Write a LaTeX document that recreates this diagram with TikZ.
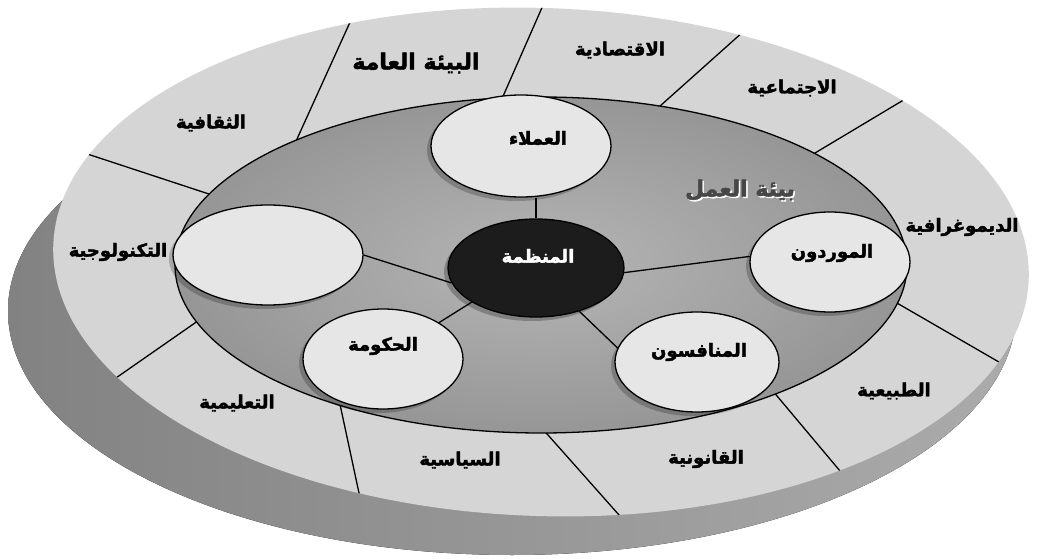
\documentclass[tikz,border=0pt]{standalone}
\usepackage{fontspec}
\newfontfamily\arfont[Script=Arabic, BoldFont={DejaVu Sans Bold}, BoldFeatures={FakeBold=2.2}]{DejaVu Sans}
\TeXXeTstate=1
\usetikzlibrary{shapes.geometric,shadows}
\definecolor{shL}{HTML}{828282}
\definecolor{shR}{HTML}{ABABAB}
\definecolor{ringfill}{HTML}{D5D5D5}
\definecolor{innerC}{HTML}{B5B5B5}
\definecolor{innerO}{HTML}{969696}
\definecolor{ellfill}{HTML}{E6E6E6}
\definecolor{orgfill}{HTML}{1C1C1C}
\newcommand{\artxt}[1]{\beginR #1\endR}
\newcommand{\ringpath}{(541,262) ellipse [x radius=488pt, y radius=254pt]}
\begin{document}
\begin{tikzpicture}[x=1pt,y=-1pt,
  smallell/.style={ellipse, draw=black, line width=1.3pt, fill=ellfill, inner sep=0pt,
    drop shadow={shadow xshift=-4pt, shadow yshift=-4pt, opacity=0.22, fill=black}},
  lab/.style={font=\arfont\bfseries\fontsize{18}{20}\selectfont, inner sep=1pt},
  biglab/.style={font=\arfont\bfseries\fontsize{22}{24}\selectfont, inner sep=1pt},
  radial/.style={draw=black, line width=1.3pt},
  conn/.style={draw=black, line width=1.3pt}]
\useasboundingbox (0,0) rectangle (1037,559);
\fill[white] (0,0) rectangle (1037,559);
% disc side (shadow)
\fill[left color=shL, right color=shR] (512,311) ellipse [x radius=504pt, y radius=244pt];
% outer ring (general environment)
\fill[ringfill, rotate around={-2:(541,262)}] \ringpath;
% radial dividers
\coordinate (a1) at (292,150); \coordinate (b1) at (361,-2);
\coordinate (a2) at (497,110); \coordinate (b2) at (555,-22);
\coordinate (a3) at (650,115); \coordinate (b3) at (772,6);
\coordinate (a4) at (800,162); \coordinate (b4) at (942,77);
\coordinate (a5) at (890,299); \coordinate (b5) at (1030,380);
\coordinate (a6) at (772,390); \coordinate (b6) at (856,490);
\coordinate (a7) at (540,426); \coordinate (b7) at (643,542);
\coordinate (a8) at (338,395); \coordinate (b8) at (368,535);
\coordinate (a9) at (215,309); \coordinate (b9) at (80,403);
\coordinate (a10) at (218,197); \coordinate (b10) at (60,145);
\begin{scope}
\clip[rotate around={-2:(541,262)}] \ringpath;
\foreach \i in {1,...,10} {\draw[radial] (a\i) -- (b\i);}
\end{scope}
% task environment
\draw[line width=1.3pt, inner color=innerC, outer color=innerO] (541,265) ellipse [x radius=366pt, y radius=168pt];
% small ellipses
\node[smallell, minimum width=180pt, minimum height=102pt] (cust) at (521,146) {};
\node[smallell, minimum width=190pt, minimum height=100pt] (tech) at (268,255) {};
\node[smallell, minimum width=160pt, minimum height=100pt] (sup) at (830,262) {};
\node[smallell, minimum width=164pt, minimum height=100pt] (comp) at (697,362) {};
\node[smallell, minimum width=160pt, minimum height=100pt] (gov) at (383,359) {};
\node[ellipse, draw=black, line width=1.3pt, fill=orgfill, inner sep=0pt,
  minimum width=176pt, minimum height=98pt,
  drop shadow={shadow xshift=-4pt, shadow yshift=-4pt, opacity=0.25, fill=black}] (org) at (536,268) {};
% connectors
\draw[conn] (org.north) -- (org.north |- cust.south);
\draw[conn] (org.190) -- (tech.east);
\draw[conn] (org.208) -- (gov.33);
\draw[conn] (org.315) -- (comp.170);
\draw[conn] (org.357) -- (sup.176);
% inner texts
\node[lab] (tcust) at (538,138) {\artxt{العملاء}};
\node[lab, text=white] (torg) at (538,256) {\artxt{المنظمة}};
\node[lab] (tsup) at (832,253) {\artxt{الموردون}};
\node[lab] (tcomp) at (699,352) {\artxt{المنافسون}};
\node[lab] (tgov) at (383,346) {\artxt{الحكومة}};
\node[biglab, text=white] (twkS) at (741.5,191.5) {\artxt{بيئة العمل}};
\node[biglab, text=black!72] (twk) at (740,190) {\artxt{بيئة العمل}};
% outer texts
\node[biglab] (lGen) at (416,63) {\artxt{البيئة العامة}};
\node[lab] (lEco) at (620,50) {\artxt{الاقتصادية}};
\node[lab] (lSoc) at (792,88) {\artxt{الاجتماعية}};
\node[lab] (lDem) at (962,227) {\artxt{الديموغرافية}};
\node[lab] (lNat) at (894,391) {\artxt{الطبيعية}};
\node[lab] (lLaw) at (706,459) {\artxt{القانونية}};
\node[lab] (lPol) at (460,460) {\artxt{السياسية}};
\node[lab] (lEdu) at (237,403) {\artxt{التعليمية}};
\node[lab] (lTec) at (118,252) {\artxt{التكنولوجية}};
\node[lab] (lCul) at (211,123) {\artxt{الثقافية}};
\end{tikzpicture}
\end{document}
